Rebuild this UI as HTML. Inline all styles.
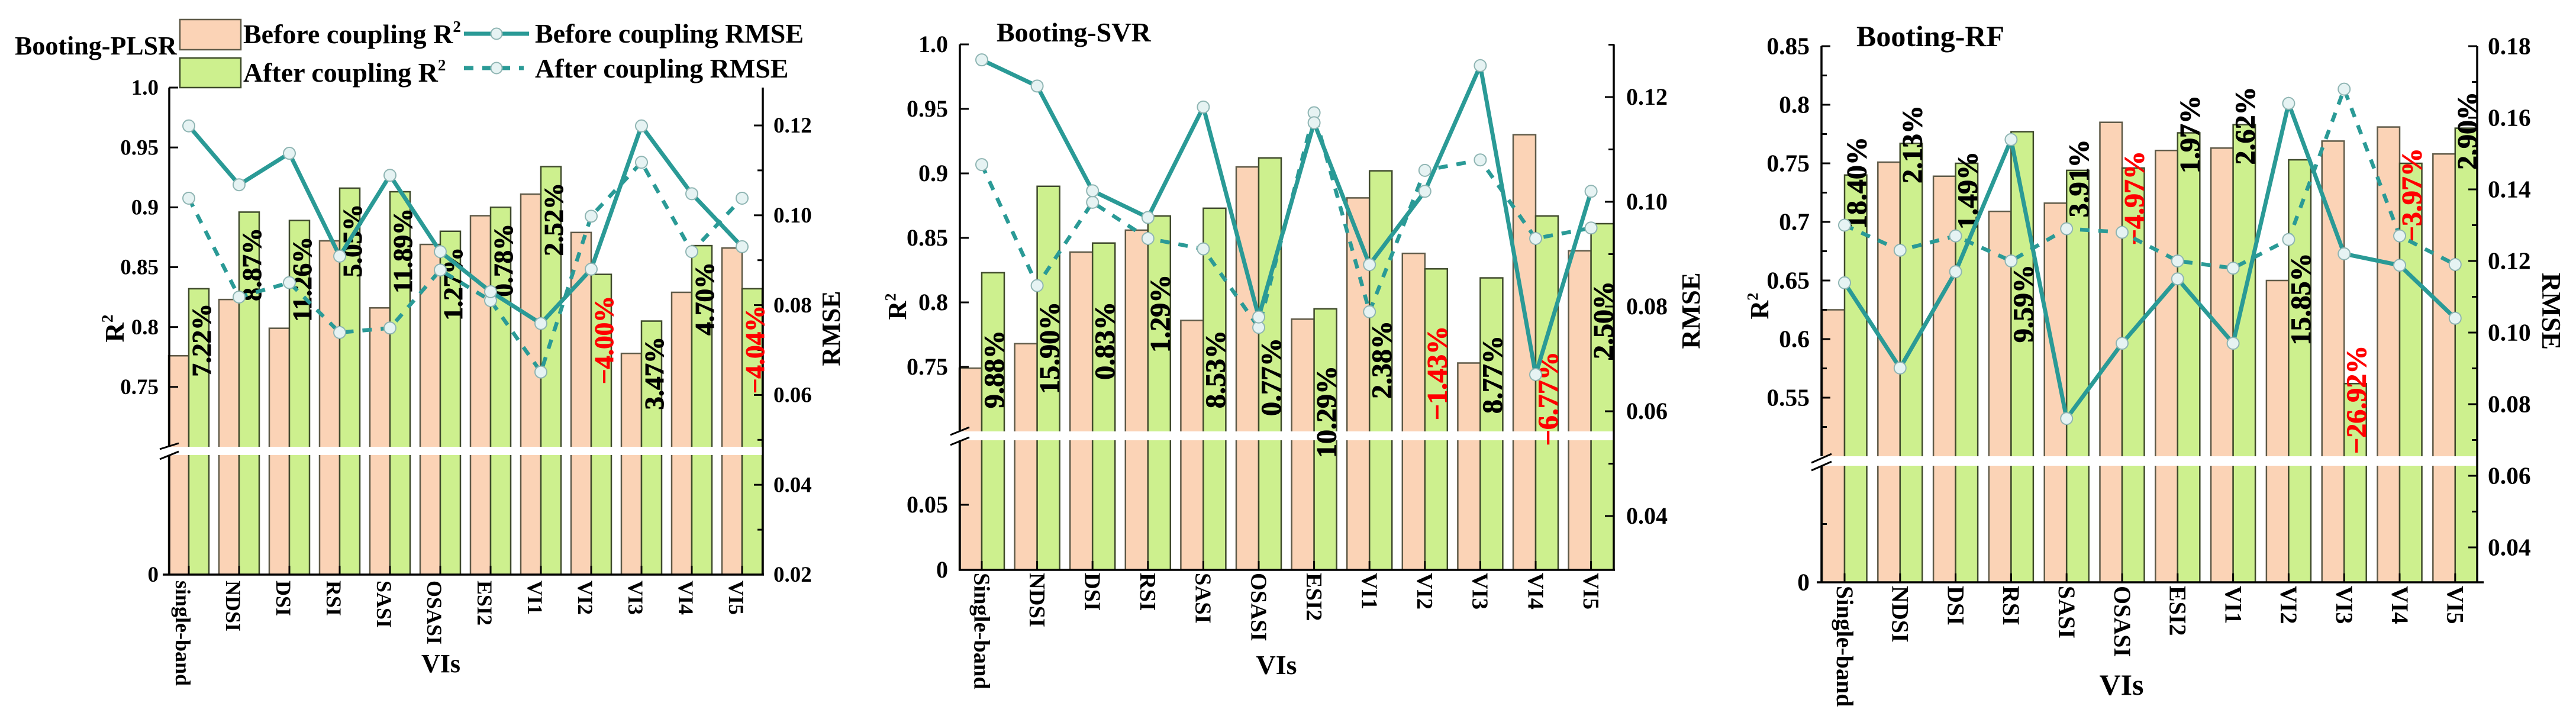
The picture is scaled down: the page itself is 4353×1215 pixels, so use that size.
<!DOCTYPE html>
<html lang="en">
<head>
<meta charset="utf-8">
<title>Booting VIs coupling charts</title>
<style>
html,body{margin:0;padding:0;background:#fff;width:4353px;height:1215px;overflow:hidden}
svg{display:block}
text{font-family:"Liberation Serif",serif;font-weight:bold;fill:#000}
</style>
</head>
<body>
<svg id="chart" xmlns="http://www.w3.org/2000/svg" width="4353" height="1215" viewBox="0 0 4353 1215">
  <rect x="0" y="0" width="4353" height="1215" fill="#ffffff"/>
  <g>
    <rect x="304" y="33" width="103" height="51" fill="#fbd3b6" stroke="#5f5a48" stroke-width="2.5"/>
    <rect x="304" y="98" width="103" height="50" fill="#cdf08e" stroke="#3d4a28" stroke-width="2.5"/>
    <text x="411" y="73" font-size="46">Before coupling R<tspan font-size="27" dy="-19">2</tspan></text>
    <text x="411" y="138" font-size="46">After coupling R<tspan font-size="27" dy="-19">2</tspan></text>
    <line x1="784" y1="57" x2="894" y2="57" stroke="#2a9a96" stroke-width="7"/>
    <circle cx="839" cy="57" r="9.5" fill="#e6f3f3" stroke="#8fb5b3" stroke-width="2"/>
    <text x="904" y="72" font-size="46">Before coupling RMSE</text>
    <line x1="784" y1="115" x2="885" y2="115" stroke="#2a9a96" stroke-width="7" stroke-dasharray="16 15"/>
    <circle cx="839" cy="115" r="9.5" fill="#e6f3f3" stroke="#8fb5b3" stroke-width="2"/>
    <text x="904" y="131" font-size="46">After coupling RMSE</text>
  </g>
</svg>
<script>
// ---------- Booting-PLSR data ----------
const plsrCategories = ['single-band','NDSI','DSI','RSI','SASI','OSASI','ESI2','VI1','VI2','VI3','VI4','VI5'];
const plsrBeforeR2 = [0.776,0.823,0.799,0.872,0.816,0.869,0.893,0.911,0.879,0.778,0.829,0.866];
const plsrAfterR2 = [0.832,0.896,0.889,0.916,0.913,0.880,0.900,0.934,0.844,0.805,0.868,0.832];
const plsrBeforeRmse = [0.1199,0.1068,0.1138,0.0909,0.1089,0.0919,0.0830,0.0759,0.0880,0.1199,0.1048,0.0930];
const plsrAfterRmse = [0.1038,0.0818,0.0850,0.0739,0.0749,0.0878,0.0810,0.0651,0.0998,0.1118,0.0919,0.1038];
const plsrGainLabels = ['7.22%','8.87%','11.26%','5.05%','11.89%','1.27%','0.78%','2.52%','\u22124.00%','3.47%','4.70%','\u22124.04%'];
const plsrGainAnchorR2 = [0.8197,0.8829,0.8755,0.9027,0.8992,0.8666,0.8864,0.9205,0.8261,0.7920,0.8542,0.8182];
const plsrR2TickLabels = ['1.0','0.95','0.9','0.85','0.8','0.75','0'];
const plsrRmseTickLabels = ['0.12','0.10','0.08','0.06','0.04','0.02'];
const plsrRmseMinorTicks = [0.11,0.09,0.07,0.05,0.03];
const plsrR2MinorTicks = [];

// ---------- Booting-SVR data ----------
const svrCategories = ['Single-band','NDSI','DSI','RSI','SASI','OSASI','ESI2','VI1','VI2','VI3','VI4','VI5'];
const svrBeforeR2 = [0.749,0.768,0.839,0.856,0.786,0.905,0.787,0.881,0.838,0.753,0.930,0.840];
const svrAfterR2 = [0.823,0.890,0.846,0.867,0.873,0.912,0.795,0.902,0.826,0.819,0.867,0.861];
const svrBeforeRmse = [0.1271,0.1221,0.1021,0.0970,0.1181,0.0780,0.1151,0.0880,0.1020,0.1260,0.0670,0.1020];
const svrAfterRmse = [0.1071,0.0840,0.0999,0.0930,0.0910,0.0760,0.1170,0.0790,0.1060,0.1080,0.0930,0.0950];
const svrGainLabels = ['9.88%','15.90%','0.83%','1.29%','8.53%','0.77%','10.29%','2.38%','\u22121.43%','8.77%','\u22126.77%','2.50%'];
const svrGainAnchorR2 = [0.7784,0.8005,0.8005,0.8216,0.7784,0.7725,0.7509,0.7858,0.7817,0.7743,0.7619,0.8165];
const svrR2TickLabels = ['1.0','0.95','0.9','0.85','0.8','0.75','0.05','0'];
const svrRmseTickLabels = ['0.12','0.10','0.08','0.06','0.04'];
const svrRmseMinorTicks = [0.13,0.11,0.09,0.07,0.05];
const svrR2MinorTicks = [];

// ---------- Booting-RF data ----------
const rfCategories = ['Single-band','NDSI','DSI','RSI','SASI','OSASI','ESI2','VI1','VI2','VI3','VI4','VI5'];
const rfBeforeR2 = [0.625,0.751,0.739,0.709,0.716,0.785,0.761,0.763,0.650,0.769,0.781,0.758];
const rfAfterR2 = [0.740,0.767,0.750,0.777,0.744,0.746,0.776,0.783,0.753,0.562,0.750,0.780];
const rfBeforeRmse = [0.1139,0.0901,0.1170,0.1539,0.0760,0.0970,0.1150,0.0970,0.1640,0.1220,0.1188,0.1040];
const rfAfterRmse = [0.1300,0.1230,0.1270,0.1200,0.1290,0.1280,0.1200,0.1180,0.1260,0.1680,0.1270,0.1190];
const rfGainLabels = ['18.40%','2.13%','1.49%','9.59%','3.91%','\u22124.97%','1.97%','2.62%','15.85%','\u221226.92%','\u22123.97%','2.90%'];
const rfGainAnchorR2 = [0.7727,0.7995,0.7601,0.6636,0.7705,0.7606,0.8081,0.8154,0.6735,0.5946,0.7631,0.8111];
const rfR2TickLabels = ['0.85','0.8','0.75','0.7','0.65','0.6','0.55','0'];
const rfRmseTickLabels = ['0.18','0.16','0.14','0.12','0.10','0.08','0.06','0.04'];
const rfRmseMinorTicks = [0.17,0.15,0.13,0.11,0.09,0.07,0.05];
const rfR2MinorTicks = [0.825,0.775,0.725,0.675,0.625,0.575,0.525,0.05];

const NS = 'http://www.w3.org/2000/svg';
const root = document.getElementById('chart');
const TEAL = '#2a9a96';

function make(tag, parent, attrs, txt) {
  const el = document.createElementNS(NS, tag);
  for (const k in attrs) el.setAttribute(k, attrs[k]);
  if (txt !== undefined) el.textContent = txt;
  parent.appendChild(el);
  return el;
}
function linear(v0, p0, v1, p1) {
  return v => p0 + (v - v0) * (p1 - p0) / (v1 - v0);
}

function drawPanel(c) {
  const g = make('g', root, {});
  
  

  const xCat = i => c.x0 + c.step * i;
  const yUpper = linear(c.upper[0], c.upper[1], c.upper[2], c.upper[3]);
  const yLower = linear(c.lower[0], c.lower[1], c.lower[2], c.lower[3]);
  const yR2 = v => (v >= c.breakAt ? yUpper(v) : yLower(v));
  const yRmse = linear(c.rmse[0], c.rmse[1], c.rmse[2], c.rmse[3]);

  // bars
  c.categories.forEach((name, i) => {
    const yB = yUpper(c.beforeR2[i]);
    const barB = make('rect', g, {x: xCat(i) - c.barW, y: yB, width: c.barW, height: c.base - yB, fill: '#fbd3b6', stroke: '#5f5a48', 'stroke-width': 2.5});
    
    
    const yA = yUpper(c.afterR2[i]);
    const barA = make('rect', g, {x: xCat(i), y: yA, width: c.barW, height: c.base - yA, fill: '#cdf08e', stroke: '#3f4a2c', 'stroke-width': 2.5});
    
    
  });

  // axis break band
  const band = make('rect', g, {x: c.left - 3, y: c.gap[0], width: c.right - c.left + 1.5, height: c.gap[1] - c.gap[0], fill: '#ffffff'});
  
  

  // axes
  const axisAttrs = {stroke: '#000', 'stroke-width': 3.5};
  const leftTop = make('line', g, Object.assign({x1: c.left, y1: c.top, x2: c.left, y2: c.gap[0]}, axisAttrs));
  
  
  const leftBot = make('line', g, Object.assign({x1: c.left, y1: c.gap[1], x2: c.left, y2: c.base}, axisAttrs));
  
  
  const rightAxis = make('line', g, Object.assign({x1: c.right, y1: c.top, x2: c.right, y2: c.base}, axisAttrs));
  
  
  const xAxis = make('line', g, Object.assign({x1: c.xAxisFrom, y1: c.base, x2: c.xAxisTo, y2: c.base}, axisAttrs));
  
  

  // break marks
  c.slashes.forEach(s => {
    const sl = make('line', g, {x1: c.left - s[0], y1: s[1], x2: c.left + s[0], y2: s[1] - s[2], stroke: '#000', 'stroke-width': 3});
    
    
  });

  // left ticks
  c.r2Ticks.forEach(t => {
    const v = parseFloat(t), y = yR2(v);
    if (v !== 0) {
      const tk = make('line', g, {x1: c.left, y1: y, x2: c.left + 15, y2: y, stroke: '#000', 'stroke-width': 3});
      
      
    }
    const lb = make('text', g, {x: c.leftLabelX, y: y + c.tickFont * 0.33, 'font-size': c.tickFont, 'text-anchor': 'end'}, t);
    
    
  });
  c.r2Minor.forEach(v => {
    const y = yR2(v);
    const tk = make('line', g, {x1: c.left, y1: y, x2: c.left + 9, y2: y, stroke: '#000', 'stroke-width': 3});
    
    
  });

  // right ticks
  c.rmseTicks.forEach(t => {
    const y = yRmse(parseFloat(t));
    const tk = make('line', g, {x1: c.right, y1: y, x2: c.right - 15, y2: y, stroke: '#000', 'stroke-width': 3});
    
    
    const lb = make('text', g, {x: c.rightLabelX, y: y + c.tickFont * 0.33, 'font-size': c.tickFont}, t);
    
    
  });
  c.rmseMinor.forEach(v => {
    const y = yRmse(v);
    const tk = make('line', g, {x1: c.right, y1: y, x2: c.right - 9, y2: y, stroke: '#000', 'stroke-width': 3});
    
    
  });

  // category ticks and labels
  c.categories.forEach((name, i) => {
    const x = xCat(i);
    const tk = make('line', g, {x1: x, y1: c.base, x2: x, y2: c.base - 15, stroke: '#000', 'stroke-width': 3});
    
    
    const bx = x + c.catShift - c.catFont * 0.33, by = c.catY;
    const lb = make('text', g, {x: bx, y: by, 'font-size': c.catFont, transform: 'rotate(90 ' + bx + ' ' + by + ')'}, name);
    
    
  });

  // gain labels
  c.gainLabels.forEach((t, i) => {
    const negative = t.charAt(0) === '\u2212';
    const colour = negative ? '#ff0000' : '#000000';
    const bx = xCat(i) + c.barW / 2 + c.gainShift + c.gainFont * 0.33;
    const by = yUpper(c.gainAnchor[i]);
    const lb = make('text', g, {x: bx, y: by, 'font-size': c.gainFont, 'text-anchor': 'end', style: 'fill:' + colour + ';stroke:' + colour + ';stroke-width:0.9', transform: 'rotate(-90 ' + bx + ' ' + by + ')'}, t);
    
    
  });

  // RMSE lines
  const ptsOf = arr => arr.map((v, i) => xCat(i) + ',' + yRmse(v)).join(' ');
  const lineAfter = make('polyline', g, {points: ptsOf(c.afterRmse), fill: 'none', stroke: TEAL, 'stroke-width': 6.5, 'stroke-dasharray': '16 15'});
  
  
  const lineBefore = make('polyline', g, {points: ptsOf(c.beforeRmse), fill: 'none', stroke: TEAL, 'stroke-width': 7});
  
  
  c.afterRmse.forEach((v, i) => {
    const m = make('circle', g, {cx: xCat(i), cy: yRmse(v), r: 10, fill: '#e6f3f3', stroke: '#8fb5b3', 'stroke-width': 2});
    
    
  });
  c.beforeRmse.forEach((v, i) => {
    const m = make('circle', g, {cx: xCat(i), cy: yRmse(v), r: 10, fill: '#e6f3f3', stroke: '#8fb5b3', 'stroke-width': 2});
    
    
  });

  // titles
  const title = make('text', g, {x: c.title[0], y: c.title[1], 'font-size': c.title[2]}, c.titleText);
  
  
  const xt = make('text', g, {x: c.xTitle[0], y: c.xTitle[1], 'font-size': c.xTitle[2], 'text-anchor': 'middle'}, 'VIs');
  
  

  const r2 = make('text', g, {x: c.r2Title[0], y: c.r2Title[1], 'font-size': c.r2Title[2], 'text-anchor': 'middle', transform: 'rotate(-90 ' + c.r2Title[0] + ' ' + c.r2Title[1] + ')'}, 'R');
  
  
  const sup = make('tspan', r2, {'font-size': c.r2Title[2] * 0.6, dy: -c.r2Title[2] * 0.4}, '2');
  
  

  const rot = c.rmseTitle[3];
  const rm = make('text', g, {x: c.rmseTitle[0], y: c.rmseTitle[1], 'font-size': c.rmseTitle[2], 'text-anchor': 'middle', transform: 'rotate(' + rot + ' ' + c.rmseTitle[0] + ' ' + c.rmseTitle[1] + ')'}, 'RMSE');
  
  
}

drawPanel({
  slug: 'plsr', titleText: 'Booting-PLSR',
  categories: plsrCategories, beforeR2: plsrBeforeR2, afterR2: plsrAfterR2,
  beforeRmse: plsrBeforeRmse, afterRmse: plsrAfterRmse,
  gainLabels: plsrGainLabels, gainAnchor: plsrGainAnchorR2,
  r2Ticks: plsrR2TickLabels, r2Minor: plsrR2MinorTicks,
  rmseTicks: plsrRmseTickLabels, rmseMinor: plsrRmseMinorTicks,
  left: 286, right: 1289, top: 148, base: 971,
  x0: 319, step: 85, barW: 34,
  upper: [0.7, 755, 1.0, 148], lower: [0, 971, 0.1, 769], breakAt: 0.5,
  rmse: [0.02, 971, 0.12, 212], gap: [755, 769],
  xAxisFrom: 275, xAxisTo: 1291,
  slashes: [[16, 759, 10], [16, 776, 13]],
  leftLabelX: 268, rightLabelX: 1307, tickFont: 37,
  catFont: 36, catY: 981, catShift: -10,
  gainFont: 45, gainShift: 5,
  title: [25, 92, 44], xTitle: [745, 1136, 44],
  r2Title: [209, 555, 46], rmseTitle: [1419, 555, 44, -90]
});

drawPanel({
  slug: 'svr', titleText: 'Booting-SVR',
  categories: svrCategories, beforeR2: svrBeforeR2, afterR2: svrAfterR2,
  beforeRmse: svrBeforeRmse, afterRmse: svrAfterRmse,
  gainLabels: svrGainLabels, gainAnchor: svrGainAnchorR2,
  r2Ticks: svrR2TickLabels, r2Minor: svrR2MinorTicks,
  rmseTicks: svrRmseTickLabels, rmseMinor: svrRmseMinorTicks,
  left: 1622, right: 2727, top: 75, base: 963,
  x0: 1659, step: 93.6, barW: 38,
  upper: [0.7, 729, 1.0, 75], lower: [0, 963, 0.05, 853], breakAt: 0.5,
  rmse: [0.04, 872, 0.12, 164], gap: [729, 744],
  xAxisFrom: 1620, xAxisTo: 2729,
  slashes: [[16, 735, 13], [16, 752, 13]],
  leftLabelX: 1602, rightLabelX: 2748, tickFont: 40,
  catFont: 38.5, catY: 968, catShift: 0,
  gainFont: 48, gainShift: 2,
  title: [1684, 70, 46], xTitle: [2157, 1139, 46],
  r2Title: [1531, 518, 44], rmseTitle: [2872, 525, 44.7, -90]
});

drawPanel({
  slug: 'rf', titleText: 'Booting-RF',
  categories: rfCategories, beforeR2: rfBeforeR2, afterR2: rfAfterR2,
  beforeRmse: rfBeforeRmse, afterRmse: rfAfterRmse,
  gainLabels: rfGainLabels, gainAnchor: rfGainAnchorR2,
  r2Ticks: rfR2TickLabels, r2Minor: rfR2MinorTicks,
  rmseTicks: rfRmseTickLabels, rmseMinor: rfRmseMinorTicks,
  left: 3078, right: 4186, top: 78, base: 984,
  x0: 3117, step: 93.8, barW: 37.5,
  upper: [0.5, 771, 0.85, 78], lower: [0, 984, 0.05, 885.5], breakAt: 0.3,
  rmse: [0.04, 925, 0.18, 78], gap: [771, 787],
  xAxisFrom: 3070, xAxisTo: 4197,
  slashes: [[17, 782, 15], [17, 795, 15]],
  leftLabelX: 3058, rightLabelX: 4204, tickFont: 41.5,
  catFont: 40, catY: 990, catShift: 0,
  gainFont: 48, gainShift: 2,
  title: [3137, 78, 50], xTitle: [3585, 1174, 50],
  r2Title: [2988, 517, 44], rmseTitle: [4296, 526, 45, 90]
});
</script>
</body>
</html>
